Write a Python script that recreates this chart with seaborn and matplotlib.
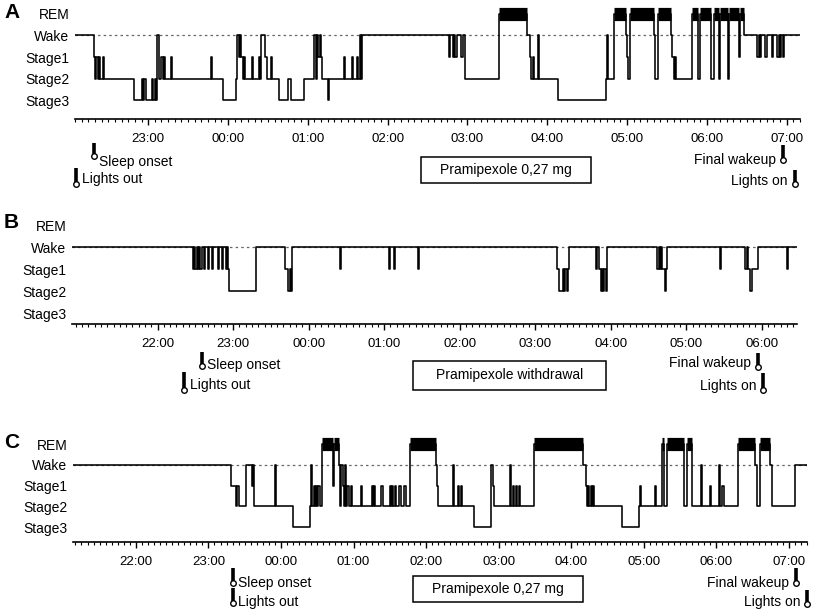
import matplotlib
matplotlib.use("Agg")
import pandas as pd
import seaborn as sns
import matplotlib.pyplot as plt
from matplotlib.ticker import MultipleLocator, FixedLocator, FuncFormatter
from matplotlib.patches import Rectangle
from matplotlib.transforms import blended_transform_factory

# --- данные: смена стадий сна (время, стадия) ---
STAGE_LEVEL = {"R": 4, "W": 3, "1": 2, "2": 1, "3": 0}
STAGE_NAMES = ["REM", "Wake", "Stage1", "Stage2", "Stage3"]
FIRST_LABEL_HOUR = 22  # подписи часов начинаются с 22:00

a_span = ("22:05", "07:10")
a_hypno = [
    ("22:05", "W"), ("22:19", "1"), ("22:20", "2"), ("22:21", "1"), ("22:22", "2"), ("22:23", "1"),
    ("22:24", "2"), ("22:26", "1"), ("22:27", "2"), ("22:49", "3"), ("22:55", "2"), ("22:56", "3"),
    ("22:57", "2"), ("22:58", "3"), ("23:03", "2"), ("23:04", "3"), ("23:05", "2"), ("23:06", "3"),
    ("23:07", "W"), ("23:08", "2"), ("23:10", "1"), ("23:11", "2"), ("23:12", "1"), ("23:13", "2"),
    ("23:17", "1"), ("23:18", "2"), ("23:47", "1"), ("23:48", "2"), ("23:56", "3"), ("00:06", "2"),
    ("00:07", "W"), ("00:08", "1"), ("00:09", "W"), ("00:10", "1"), ("00:11", "2"), ("00:12", "1"),
    ("00:13", "2"), ("00:18", "1"), ("00:19", "2"), ("00:23", "1"), ("00:24", "2"), ("00:25", "W"),
    ("00:28", "1"), ("00:29", "2"), ("00:32", "1"), ("00:33", "2"), ("00:38", "3"), ("00:45", "2"),
    ("00:47", "3"), ("00:57", "2"), ("01:05", "W"), ("01:06", "2"), ("01:07", "W"), ("01:08", "1"),
    ("01:09", "W"), ("01:10", "1"), ("01:11", "2"), ("01:15", "3"), ("01:16", "2"), ("01:27", "1"),
    ("01:28", "2"), ("01:33", "1"), ("01:34", "2"), ("01:37", "1"), ("01:38", "2"), ("01:39", "W"),
    ("01:40", "2"), ("01:41", "W"), ("02:46", "1"), ("02:47", "W"), ("02:49", "1"), ("02:50", "W"),
    ("02:51", "1"), ("02:52", "W"), ("02:55", "1"), ("02:57", "W"), ("02:58", "2"), ("03:24", "R"),
    ("03:45", "W"), ("03:47", "1"), ("03:48", "2"), ("03:49", "1"), ("03:50", "2"), ("03:53", "W"),
    ("03:54", "2"), ("04:08", "3"), ("04:44", "2"), ("04:45", "W"), ("04:46", "2"), ("04:50", "R"),
    ("04:59", "W"), ("05:00", "1"), ("05:01", "2"), ("05:02", "R"), ("05:20", "W"), ("05:21", "2"),
    ("05:23", "R"), ("05:33", "W"), ("05:34", "1"), ("05:35", "2"), ("05:36", "1"), ("05:37", "2"),
    ("05:49", "R"), ("05:53", "2"), ("05:55", "R"), ("06:03", "2"), ("06:05", "R"), ("06:09", "2"),
    ("06:10", "R"), ("06:16", "2"), ("06:17", "R"), ("06:24", "1"), ("06:25", "R"), ("06:28", "W"),
    ("06:38", "1"), ("06:39", "W"), ("06:40", "1"), ("06:41", "W"), ("06:44", "1"), ("06:45", "W"),
    ("06:49", "1"), ("06:50", "W"), ("06:53", "1"), ("06:54", "W"), ("06:55", "1"), ("06:56", "W"),
    ("06:57", "1"), ("06:58", "W"),
]
a_events = [("Lights out", "22:06"), ("Sleep onset", "22:19"), ("Final wakeup", "06:57"), ("Lights on", "07:06")]
a_drug = "Pramipexole 0,27 mg"

b_span = ("20:52", "06:28")
b_hypno = [
    ("20:52", "W"), ("22:28", "1"), ("22:29", "W"), ("22:30", "1"), ("22:31", "W"), ("22:32", "1"),
    ("22:33", "W"), ("22:34", "1"), ("22:35", "W"), ("22:37", "1"), ("22:38", "W"), ("22:40", "1"),
    ("22:41", "W"), ("22:43", "1"), ("22:44", "W"), ("22:48", "1"), ("22:49", "W"), ("22:51", "1"),
    ("22:52", "W"), ("22:54", "1"), ("22:55", "W"), ("22:56", "1"), ("22:57", "2"), ("23:18", "W"),
    ("23:41", "1"), ("23:44", "2"), ("23:45", "1"), ("23:46", "2"), ("23:47", "W"), ("00:25", "1"),
    ("00:26", "W"), ("01:04", "1"), ("01:05", "W"), ("01:08", "1"), ("01:09", "W"), ("01:27", "1"),
    ("01:28", "W"), ("03:17", "1"), ("03:19", "2"), ("03:22", "1"), ("03:23", "2"), ("03:24", "1"),
    ("03:25", "2"), ("03:26", "1"), ("03:27", "W"), ("03:48", "1"), ("03:49", "W"), ("03:51", "1"),
    ("03:52", "2"), ("03:53", "1"), ("03:54", "2"), ("03:55", "1"), ("03:56", "2"), ("03:57", "W"),
    ("04:37", "1"), ("04:38", "W"), ("04:39", "1"), ("04:40", "W"), ("04:41", "1"), ("04:43", "2"),
    ("04:44", "1"), ("04:45", "W"), ("05:27", "1"), ("05:28", "W"), ("05:47", "1"), ("05:48", "W"),
    ("05:49", "1"), ("05:51", "2"), ("05:52", "1"), ("05:57", "W"), ("06:20", "1"), ("06:21", "W"),
]
b_events = [("Lights out", "22:21"), ("Sleep onset", "22:35"), ("Final wakeup", "05:57"), ("Lights on", "06:01")]
b_drug = "Pramipexole withdrawal"

c_span = ("21:08", "07:15")
c_hypno = [
    ("21:08", "W"), ("23:19", "1"), ("23:23", "2"), ("23:24", "1"), ("23:25", "2"), ("23:31", "W"),
    ("23:36", "1"), ("23:37", "W"), ("23:38", "2"), ("23:55", "W"), ("23:56", "2"), ("00:10", "3"),
    ("00:24", "2"), ("00:25", "W"), ("00:26", "2"), ("00:27", "1"), ("00:28", "2"), ("00:29", "1"),
    ("00:30", "2"), ("00:31", "1"), ("00:32", "2"), ("00:34", "R"), ("00:43", "1"), ("00:44", "R"),
    ("00:48", "W"), ("00:49", "2"), ("00:50", "W"), ("00:51", "1"), ("00:52", "2"), ("00:53", "W"),
    ("00:54", "2"), ("00:55", "1"), ("00:56", "2"), ("00:58", "1"), ("00:59", "2"), ("01:06", "1"),
    ("01:07", "2"), ("01:15", "1"), ("01:16", "2"), ("01:17", "1"), ("01:18", "2"), ("01:23", "1"),
    ("01:24", "2"), ("01:30", "1"), ("01:31", "2"), ("01:32", "1"), ("01:33", "2"), ("01:34", "1"),
    ("01:35", "2"), ("01:38", "1"), ("01:39", "2"), ("01:42", "1"), ("01:43", "2"), ("01:47", "R"),
    ("02:08", "W"), ("02:09", "1"), ("02:10", "2"), ("02:22", "W"), ("02:23", "2"), ("02:26", "1"),
    ("02:27", "2"), ("02:29", "1"), ("02:30", "2"), ("02:40", "3"), ("02:54", "W"), ("02:55", "1"),
    ("02:56", "2"), ("03:09", "W"), ("03:10", "2"), ("03:12", "1"), ("03:13", "2"), ("03:14", "1"),
    ("03:15", "2"), ("03:17", "1"), ("03:18", "2"), ("03:29", "R"), ("04:10", "W"), ("04:12", "1"),
    ("04:13", "2"), ("04:14", "1"), ("04:15", "2"), ("04:16", "1"), ("04:17", "2"), ("04:18", "1"),
    ("04:19", "2"), ("04:42", "3"), ("04:56", "2"), ("04:57", "1"), ("04:58", "2"), ("05:09", "1"),
    ("05:10", "2"), ("05:15", "R"), ("05:17", "2"), ("05:19", "R"), ("05:33", "2"), ("05:36", "R"),
    ("05:40", "2"), ("05:47", "W"), ("05:48", "2"), ("05:55", "1"), ("05:56", "2"), ("06:02", "W"),
    ("06:03", "2"), ("06:05", "1"), ("06:06", "2"), ("06:18", "R"), ("06:32", "W"), ("06:34", "2"),
    ("06:36", "R"), ("06:44", "W"), ("06:46", "2"), ("07:05", "W"),
]
c_events = [("Lights out", "23:20"), ("Sleep onset", "23:20"), ("Final wakeup", "07:06"), ("Lights on", "07:15")]
c_drug = "Pramipexole 0,27 mg"

# --- раскладка (пиксели фигуры 816x612) ---
W_PX, H_PX = 816, 612
LAYOUT = [
    dict(letter="A", axes=(75, 3, 800, 119), ylim=(-0.88, 4.51), letter_y=13,
         icons={"Lights out": (168, 186, 179), "Sleep onset": (143, 158, 162),
                "Final wakeup": (145, 162, 160), "Lights on": (170, 186, 181)},
         box=(421, 157, 591, 183)),
    dict(letter="B", axes=(72, 213, 797, 324), ylim=(-0.5, 4.55), letter_y=222,
         icons={"Lights out": (372, 392, 385), "Sleep onset": (352, 368, 365),
                "Final wakeup": (353, 369, 363), "Lights on": (373, 392, 386)},
         box=(413, 361, 606, 390)),
    dict(letter="C", axes=(73, 433, 807, 542), ylim=(-0.72, 4.53), letter_y=443,
         icons={"Lights out": (588, 605, 602), "Sleep onset": (568, 585, 583),
                "Final wakeup": (568, 585, 583), "Lights on": (590, 606, 602)},
         box=(413, 576, 583, 602)),
]
RIGHT_SIDE = {"Final wakeup", "Lights on"}


def to_hours(s):
    h, m = map(int, s.split(":"))
    if h < 12:
        h += 24
    return h + m / 60


def fy(px):
    return 1 - px / H_PX


sns.set_theme(style="white")
plt.rcParams["font.family"] = ["Liberation Sans", "DejaVu Sans"]
plt.rcParams["text.color"] = "black"
plt.rcParams["xtick.color"] = "black"
plt.rcParams["ytick.color"] = "black"

fig = plt.figure(figsize=(W_PX / 100, H_PX / 100), dpi=100)

nights = [(a_span, a_hypno, a_events, a_drug),
          (b_span, b_hypno, b_events, b_drug),
          (c_span, c_hypno, c_events, c_drug)]

for (span, hypno, events, drug), lay in zip(nights, LAYOUT):
    x0, y0, x1, y1 = lay["axes"]
    ax = fig.add_axes([x0 / W_PX, fy(y1), (x1 - x0) / W_PX, (y1 - y0) / H_PX])

    df = pd.DataFrame(hypno, columns=["time", "stage"])
    df["t"] = df["time"].apply(to_hours)
    df["level"] = df["stage"].map(STAGE_LEVEL)
    t_start, t_end = to_hours(span[0]), to_hours(span[1])
    df_plot = pd.concat([df, pd.DataFrame({"t": [t_end], "level": [df["level"].iloc[-1]]})],
                        ignore_index=True)

    # пунктир на уровне Wake
    ax.axhline(STAGE_LEVEL["W"], color="#666666", lw=0.9, ls=(0, (2, 2.5)), zorder=1)

    sns.lineplot(data=df_plot, x="t", y="level", drawstyle="steps-post", estimator=None,
                 sort=False, color="black", lw=1.15, ax=ax, zorder=3)

    # REM — толстые полосы
    rem = [i for i in df_plot.index[df_plot["level"] == STAGE_LEVEL["R"]] if i + 1 < len(df_plot)]
    ax.hlines([STAGE_LEVEL["R"]] * len(rem), df_plot.loc[rem, "t"].values,
              df_plot.loc[[i + 1 for i in rem], "t"].values, color="black", lw=9.5, zorder=4)

    ax.set_xlim(t_start, t_end)
    ax.set_ylim(*lay["ylim"])
    ax.set_xlabel("")
    ax.set_ylabel("")
    ax.set_yticks([4, 3, 2, 1, 0])
    ax.set_yticklabels(STAGE_NAMES, fontsize=10)
    ax.tick_params(axis="y", length=0, pad=4)

    hours = [h for h in range(FIRST_LABEL_HOUR, 32) if t_start <= h <= t_end]
    ax.xaxis.set_major_locator(FixedLocator(hours))
    ax.xaxis.set_minor_locator(MultipleLocator(1 / 12))
    ax.xaxis.set_major_formatter(FuncFormatter(lambda v, _: f"{int(round(v)) % 24:02d}:00"))
    ax.tick_params(axis="x", which="major", length=4, width=1, labelsize=9.5, pad=6, direction="out", bottom=True)
    ax.tick_params(axis="x", which="minor", length=2.5, width=0.8, direction="out", bottom=True)
    for side in ["top", "right", "left"]:
        ax.spines[side].set_visible(False)
    ax.spines["bottom"].set_linewidth(1.2)
    ax.spines["bottom"].set_color("black")
    ax.grid(False)

    fig.text(4 / W_PX, fy(lay["letter_y"]), lay["letter"], fontsize=15, fontweight="bold", va="center")

    blend = blended_transform_factory(ax.transData, fig.transFigure)
    for name, when in events:
        top, bot, ty = lay["icons"][name]
        t = to_hours(when)
        ax.plot([t, t], [fy(top), fy(bot - 3)], color="black", lw=2.6, transform=blend,
                clip_on=False, solid_capstyle="butt")
        ax.plot([t], [fy(bot - 2)], marker="o", ms=4, mfc="white", mec="black", mew=1,
                transform=blend, clip_on=False)
        if name in RIGHT_SIDE:
            ax.annotate(name, xy=(t, fy(ty)), xycoords=blend, xytext=(-5, 0), textcoords="offset points",
                        ha="right", va="center", fontsize=10, annotation_clip=False)
        else:
            ax.annotate(name, xy=(t, fy(ty)), xycoords=blend, xytext=(4, 0), textcoords="offset points",
                        ha="left", va="center", fontsize=10, annotation_clip=False)

    bx0, by0, bx1, by1 = lay["box"]
    fig.patches.append(Rectangle((bx0 / W_PX, fy(by1)), (bx1 - bx0) / W_PX, (by1 - by0) / H_PX,
                                 transform=fig.transFigure, fill=False, ec="black", lw=1.1))
    fig.text((bx0 + bx1) / 2 / W_PX, fy((by0 + by1) / 2), drug, ha="center", va="center", fontsize=10)

fig.savefig("out.png", dpi=100)
